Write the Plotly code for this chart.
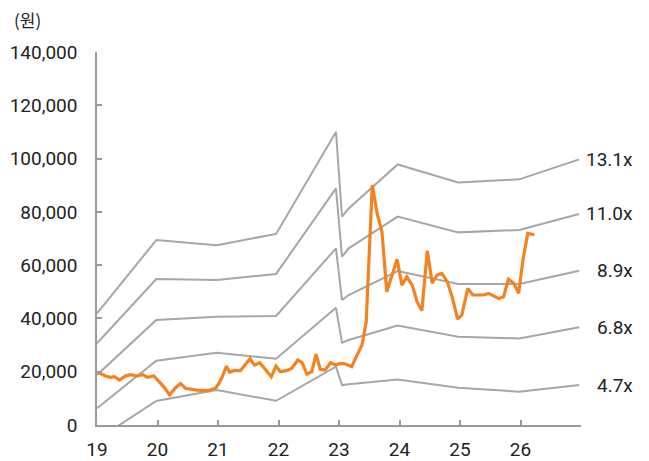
import plotly.graph_objects as go

# Band x positions (year, 2-digit)
band_x = [19.0, 19.98, 20.98, 21.96, 22.95, 23.05, 23.16, 23.97, 24.97, 25.98, 26.97]
band_labels = ["13.1x", "11.0x", "8.9x", "6.8x", "4.7x"]
band_131 = [41900, 69400, 67500, 71700, 110000, 78200, 81300, 97800, 91000, 92200, 99700]
band_110 = [30700, 54800, 54400, 56700, 88800, 63200, 66300, 78200, 72300, 73200, 79200]
band_89 = [18800, 39400, 40600, 40900, 66300, 46900, 48800, 57800, 52900, 52900, 57900]
band_68 = [6300, 24100, 27100, 24900, 44000, 30900, 31900, 37300, 33100, 32500, 36700]
band_47 = [-5500, 9000, 13100, 9100, 21900, 15000, 15300, 17100, 14000, 12500, 15000]

price_x = [19.01, 19.14, 19.22, 19.29, 19.37, 19.47, 19.55, 19.66, 19.76, 19.83,
           19.94, 20.02, 20.10, 20.20, 20.29, 20.38, 20.46, 20.65, 20.84, 20.96,
           21.02, 21.07, 21.14, 21.19, 21.26, 21.37, 21.45, 21.53, 21.60, 21.69,
           21.78, 21.88, 21.96, 22.03, 22.13, 22.22, 22.32, 22.39, 22.47, 22.55,
           22.62, 22.69, 22.77, 22.86, 22.94, 23.02, 23.10, 23.21, 23.30, 23.38,
           23.45, 23.55, 23.63, 23.71, 23.79, 23.88, 23.96, 24.04, 24.12, 24.21,
           24.29, 24.37, 24.46, 24.54, 24.62, 24.70, 24.79, 24.87, 24.96, 25.03,
           25.13, 25.21, 25.31, 25.39, 25.47, 25.56, 25.64, 25.72, 25.80, 25.89,
           25.97, 26.04, 26.12, 26.23]
price_y = [19800, 18400, 17900, 18100, 16900, 18400, 18900, 18400, 18900, 17900,
           18400, 16600, 14400, 11300, 13800, 15600, 13800, 13100, 12900, 13800,
           15800, 18100, 22100, 19800, 20400, 20400, 22900, 25000, 22500, 23400,
           20900, 18100, 22100, 20000, 20400, 21300, 24400, 23400, 19100, 20000,
           26600, 20900, 20600, 23400, 22500, 23100, 23000, 21900, 26300, 30000,
           38800, 90100, 79400, 72500, 50000, 56900, 62200, 52500, 55600, 52500,
           46300, 42900, 65400, 53200, 56300, 56900, 53800, 48100, 39700, 41300,
           51300, 48800, 48800, 48800, 49400, 48400, 47500, 48100, 54700, 53200,
           49400, 61900, 71900, 71400]

x_ticks = [19, 20, 21, 22, 23, 24, 25, 26, 27]
x_ticktext = ["19", "20", "21", "22", "23", "24", "25", "26", ""]
y_ticks = [0, 20000, 40000, 60000, 80000, 100000, 120000, 140000]

FONT = "Roboto, Noto Sans CJK KR, sans-serif"
GRAY = "#A6A6A6"
ORANGE = "#F58220"

fig = go.Figure()
bands = [band_131, band_110, band_89, band_68, band_47]
for name, vals in zip(band_labels, bands):
    fig.add_trace(go.Scatter(x=band_x, y=vals, mode="lines", name=name,
                             line=dict(color=GRAY, width=2), hoverinfo="skip"))
    fig.add_annotation(x=band_x[-1], y=vals[-1], xref="x", yref="y",
                       text=name, showarrow=False, xanchor="right", yanchor="middle",
                       xshift=56, font=dict(family=FONT, size=19, color="#222222"))

fig.add_trace(go.Scatter(x=price_x, y=price_y, mode="lines", name="주가",
                         line=dict(color=ORANGE, width=3.2)))

fig.add_annotation(x=0, y=1, xref="paper", yref="paper", text="(원)",
                   showarrow=False, xanchor="left", yanchor="middle",
                   xshift=-84, yshift=33, borderpad=0,
                   font=dict(family="Noto Sans CJK KR, sans-serif", size=17, color="#222222"))

axis_color = "#999999"
fig.update_layout(
    width=641, height=453,
    margin=dict(l=89, r=68, t=44, b=36, autoexpand=False),
    paper_bgcolor="white", plot_bgcolor="white",
    showlegend=False,
    font=dict(family=FONT, size=19, color="#222222"),
    xaxis=dict(range=[19, 27], tickvals=x_ticks, ticktext=x_ticktext,
               showgrid=False, zeroline=False, showline=True, linecolor=axis_color,
               linewidth=1.5, ticks="inside", ticklen=5, tickcolor=axis_color,
               tickwidth=1.5, ticklabelstandoff=6, automargin=False),
    yaxis=dict(range=[0, 140000], tickvals=y_ticks, tickformat=",",
               showgrid=False, zeroline=False, showline=True, linecolor=axis_color,
               linewidth=1.5, ticks="inside", ticklen=5, tickcolor=axis_color,
               tickwidth=1.5, ticklabelstandoff=14, automargin=False),
)

fig.write_html("out.html")
